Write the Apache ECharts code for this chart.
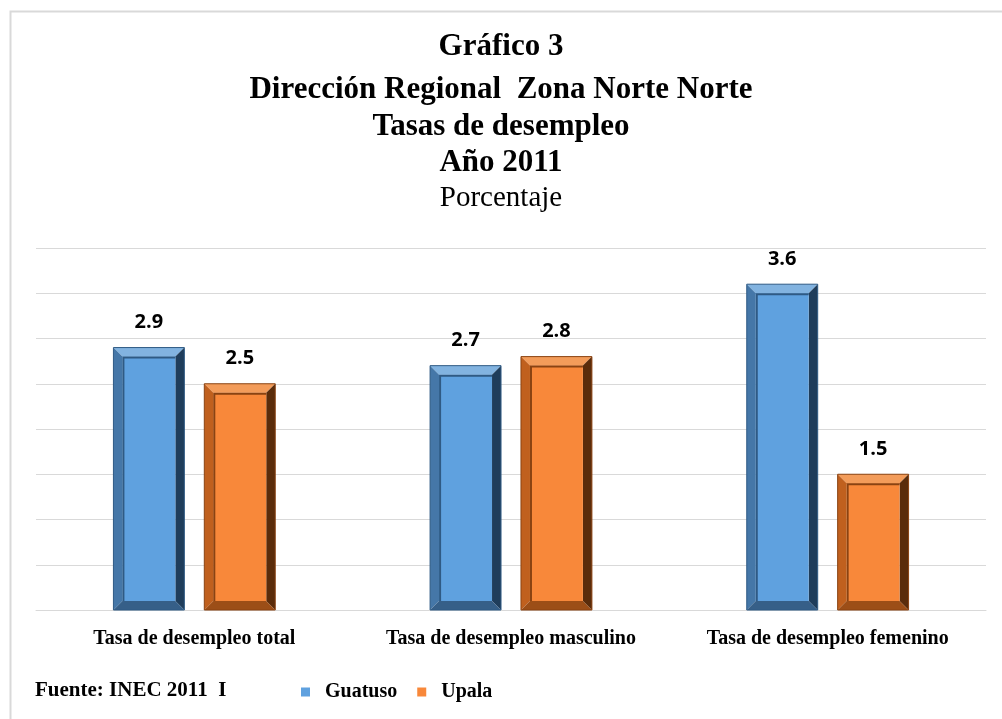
<!DOCTYPE html>
<html>
<head>
<meta charset="utf-8">
<script src="https://cdn.jsdelivr.net/npm/echarts@6/dist/echarts.min.js"></script>
<style>
  html, body { margin: 0; padding: 0; background: #fff; }
  #main { width: 1002px; height: 719px; }
</style>
</head>
<body>
<div id="main"></div>
<script>
var categories = ['Tasa de desempleo total', 'Tasa de desempleo masculino', 'Tasa de desempleo femenino'];
var guatuso = [2.9, 2.7, 3.6];
var upala = [2.5, 2.8, 1.5];
var seriesNames = ['Guatuso', 'Upala'];

// colores del bisel: cara, arriba, izquierda, derecha, abajo
var palettes = [
    {face: '#5fa1df', top: '#82b3e0', left: '#4577a8', right: '#1f3d5b', bottom: '#365f88', rim: '#2f5a84'},
    {face: '#f8883a', top: '#f39c5a', left: '#c0601e', right: '#5a2c0b', bottom: '#9c4e17', rim: '#8a4312'}
];

var chart = echarts.init(document.getElementById('main'));

/**
 * barra con efecto bisel, posicion calculada desde la escala
 */
function bevelBar(idx) {
    var pal = palettes[idx];
    return function (params, api) {
        var cat = api.value(0), val = api.value(1);
        var band = api.size([1, 0])[0];
        var bw = band * 0.224, gap = band * 0.063;
        var base = api.coord([cat, 0]);
        var topPt = api.coord([cat, val]);
        var x = base[0] + (idx === 0 ? -gap / 2 - bw : gap / 2);
        var y = topPt[1];
        var w = bw, h = base[1] - topPt[1];
        var b = 9;
        function poly(points, color) {
            return {type: 'polygon', shape: {points: points}, style: {fill: color}};
        }
        return {
            type: 'group',
            children: [
                poly([[x, y], [x + w, y], [x + w - b, y + b], [x + b, y + b]], pal.top),
                poly([[x, y], [x + b, y + b], [x + b, y + h - b], [x, y + h]], pal.left),
                poly([[x + w, y], [x + w, y + h], [x + w - b, y + h - b], [x + w - b, y + b]], pal.right),
                poly([[x, y + h], [x + b, y + h - b], [x + w - b, y + h - b], [x + w, y + h]], pal.bottom),
                {type: 'rect', shape: {x: x + b, y: y + b, width: w - 2 * b, height: h - 2 * b},
                    style: {fill: pal.face}},
                {type: 'polyline', shape: {points: [[x + b + 1, y + h - b], [x + b + 1, y + b + 1], [x + w - b, y + b + 1]]},
                    style: {stroke: pal.rim, lineWidth: 2, fill: null}},
                {type: 'rect', shape: {x: x, y: y, width: w, height: h},
                    style: {fill: null, stroke: pal.rim, lineWidth: 1}},
                {type: 'text', x: x + w / 2, y: y - 15,
                    style: {text: val.toFixed(1), align: 'center', verticalAlign: 'bottom',
                        font: 'bold 20px "Open Sans", sans-serif', fill: '#000'}}
            ]
        };
    };
}

function toPairs(arr) {
    return arr.map(function (v, i) { return [i, v]; });
}

function titleLine(text, bold, size) {
    return {text: text, font: (bold ? 'bold ' : '') + size + 'px "Liberation Serif", serif', fill: '#000'};
}

var option = {
    animation: false,
    backgroundColor: '#fff',
    graphic: [
        {type: 'rect', left: 8, top: 9, shape: {width: 1100, height: 800},
            style: {fill: null, stroke: '#d9d9d9', lineWidth: 2}},
        {type: 'text', left: 'center', top: 31, style: titleLine('Gráfico 3', true, 31)},
        {type: 'text', left: 'center', top: 74, style: titleLine('Dirección Regional  Zona Norte Norte', true, 31)},
        {type: 'text', left: 'center', top: 111, style: titleLine('Tasas de desempleo', true, 31)},
        {type: 'text', left: 'center', top: 147, style: titleLine('Año 2011', true, 31)},
        {type: 'text', left: 'center', top: 184, style: titleLine('Porcentaje', false, 29)},
        {type: 'text', left: 35, top: 680,
            style: {text: 'Fuente: INEC 2011  I', font: 'bold 21px "Liberation Serif", serif', fill: '#000'}}
    ],
    legend: {
        left: 296,
        top: 677,
        itemWidth: 9,
        itemHeight: 9,
        itemGap: 20,
        icon: 'rect',
        data: seriesNames,
        formatter: '  {name}',
        textStyle: {fontFamily: '"Liberation Serif", serif', fontWeight: 'bold', fontSize: 20, color: '#000'}
    },
    grid: {left: 36, right: 16, top: 248, bottom: 109},
    xAxis: {
        type: 'category',
        data: categories,
        axisTick: {show: false},
        axisLine: {lineStyle: {color: '#d9d9d9', width: 1}},
        axisLabel: {
            interval: 0,
            hideOverlap: false,
            margin: 19,
            color: '#000',
            fontFamily: '"Liberation Serif", serif',
            fontWeight: 'bold',
            fontSize: 20
        }
    },
    yAxis: {
        type: 'value',
        min: 0,
        max: 4,
        interval: 0.5,
        axisLabel: {show: false},
        axisLine: {show: false},
        axisTick: {show: false},
        splitLine: {lineStyle: {color: '#d9d9d9', width: 1}}
    },
    series: [
        {name: seriesNames[0], type: 'custom', renderItem: bevelBar(0), data: toPairs(guatuso),
            itemStyle: {color: palettes[0].face}, encode: {x: 0, y: 1}},
        {name: seriesNames[1], type: 'custom', renderItem: bevelBar(1), data: toPairs(upala),
            itemStyle: {color: palettes[1].face}, encode: {x: 0, y: 1}}
    ]
};

chart.setOption(option);
</script>
</body>
</html>
